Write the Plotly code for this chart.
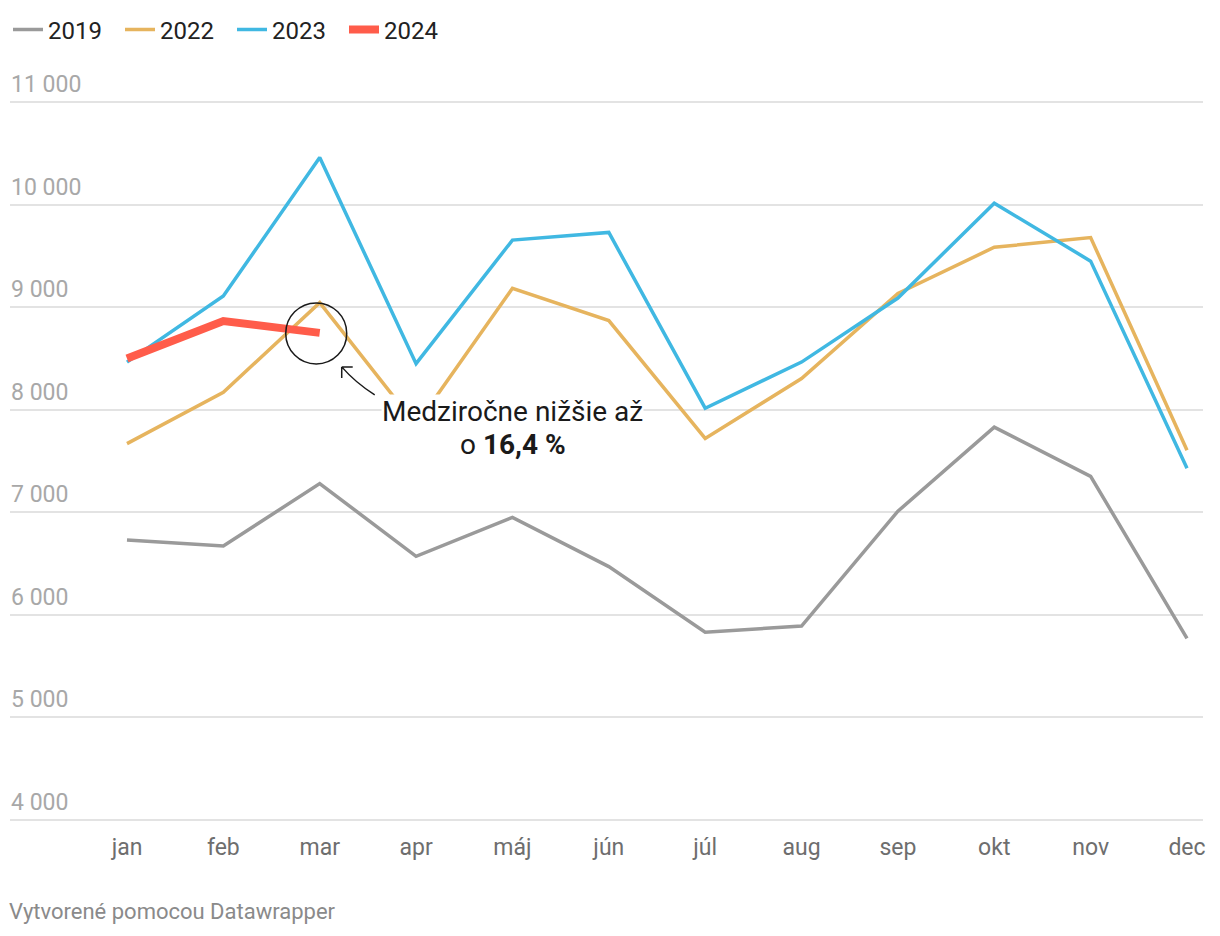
import plotly.graph_objects as go

months = ["jan", "feb", "mar", "apr", "máj", "jún", "júl", "aug", "sep", "okt", "nov", "dec"]
y2019 = [6730, 6670, 7280, 6570, 6950, 6470, 5830, 5890, 7010, 7830, 7350, 5770]
y2022 = [7670, 8170, 9045, 7850, 9185, 8870, 7720, 8305, 9135, 9585, 9680, 7605]
y2023 = [8465, 9110, 10460, 8450, 9655, 9730, 8015, 8465, 9090, 10015, 9450, 7430]
y2024 = [8500, 8865, 8750]
yticks = [4000, 5000, 6000, 7000, 8000, 9000, 10000, 11000]
ytick_labels = ["4 000", "5 000", "6 000", "7 000", "8 000", "9 000", "10 000", "11 000"]

series = [
    ("2019", y2019, "#9a9a9a", 3.5),
    ("2022", y2022, "#e6b45e", 3.5),
    ("2023", y2023, "#40b8e2", 3.5),
    ("2024", y2024, "#ff5c4a", 8),
]

FONT = "Roboto"
W, H = 1212, 928  # page has an 8px body margin
T, B = 43, 106
PLOT_H = H - T - B
PAGE_BOTTOM = 8 + H - B

fig = go.Figure()
for name, vals, color, w in series:
    fig.add_trace(go.Scatter(
        x=months[:len(vals)], y=vals, name=name, mode="lines",
        line=dict(color=color, width=w), hoverinfo="skip",
    ))

# circle around March 2024 point
mar_x = months[2]
mar_y = y2024[2]
fig.add_shape(type="circle", xref="x", yref="y", xsizemode="pixel", ysizemode="pixel",
              xanchor=mar_x, yanchor=mar_y, x0=-34, x1=27, y0=-31, y1=30,
              line=dict(color="#1a1a1a", width=1.5), layer="above")
# arrow pointing to the circle
fig.add_shape(type="path", xref="x", yref="y", xsizemode="pixel", ysizemode="pixel",
              xanchor=mar_x, yanchor=mar_y,
              path="M 55 -62 Q 36 -50 22 -34 M 22 -34 L 22 -45 M 22 -34 L 33 -34",
              line=dict(color="#1a1a1a", width=1.5), layer="above")

def py(page_y):
    # page pixel y -> paper fraction
    return (PAGE_BOTTOM - page_y) / PLOT_H

fig.add_annotation(xref="paper", yref="paper", x=0.4216, y=py(411),
                   text="Medziročne nižšie až", showarrow=False,
                   font=dict(family=FONT, size=28, color="#1a1a1a"),
                   bgcolor="white", borderpad=0, xanchor="center", yanchor="middle")
fig.add_annotation(xref="paper", yref="paper", x=0.4216, y=py(445),
                   text="o <b>16,4 %</b>", showarrow=False,
                   font=dict(family=FONT, size=28, color="#1a1a1a"),
                   bgcolor="white", borderpad=0, xanchor="center", yanchor="middle")

fig.add_annotation(xref="paper", yref="paper", x=0, y=py(912), xshift=-3,
                   text="Vytvorené pomocou Datawrapper", showarrow=False,
                   font=dict(family=FONT, size=22, color="#8a8a8a"),
                   xanchor="left", yanchor="middle")

fig.update_layout(
    width=W, height=H,
    margin=dict(l=2, r=17, t=T, b=B, autoexpand=False),
    paper_bgcolor="white", plot_bgcolor="white",
    font=dict(family=FONT, size=23, color="#222222"),
    showlegend=True,
    legend=dict(orientation="h", xref="container", yref="container",
                x=0, xanchor="left", y=1 - 22 / H, yanchor="middle",
                font=dict(family=FONT, size=24, color="#222222"),
                entrywidth=67, entrywidthmode="pixels",
                tracegroupgap=0, bgcolor="rgba(0,0,0,0)"),
    xaxis=dict(range=[-1.214, 11.166], showgrid=False, zeroline=False, showline=False,
               ticks="", ticklabelstandoff=1,
               tickfont=dict(family=FONT, size=23, color="#6e6e6e"),
               fixedrange=True),
    yaxis=dict(range=[3900, 11500], tickvals=yticks, ticktext=ytick_labels,
               showgrid=True, gridcolor="#e3e3e3", gridwidth=2, zeroline=False,
               showline=False, ticks="", ticklabelposition="inside top", ticklabelshift=-2,
               ticklabelstandoff=-2,
               tickfont=dict(family=FONT, size=23, color="#a8a8a8"), fixedrange=True),
)

fig.write_html("out.html")
